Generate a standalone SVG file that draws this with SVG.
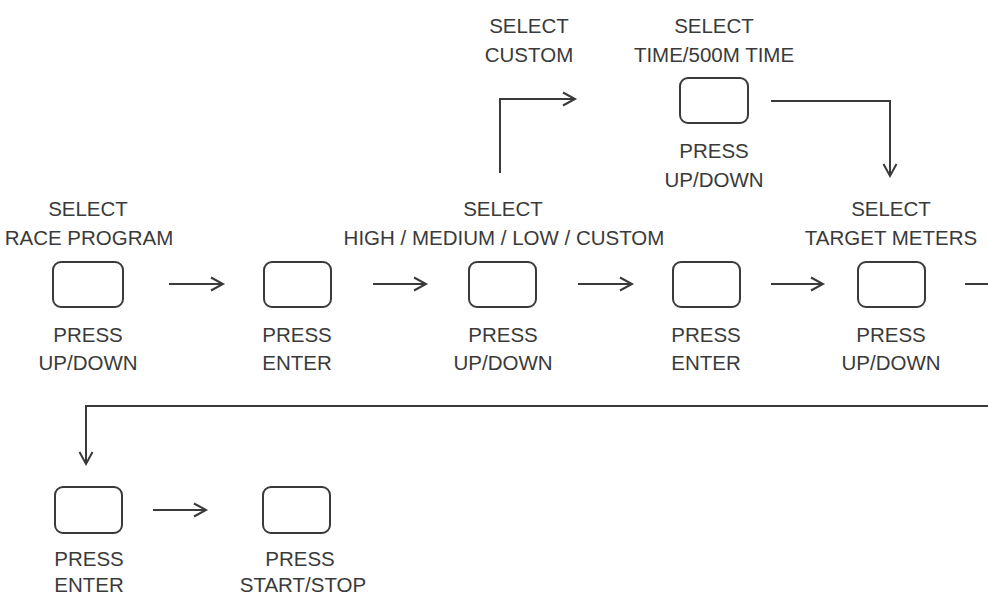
<svg xmlns="http://www.w3.org/2000/svg" width="988" height="597" viewBox="0 0 988 597">
<style>
.b{fill:#fff;stroke:#3a3a3a;stroke-width:2}
.c{fill:none;stroke:#3a3a3a;stroke-width:2}
text{font-family:"Liberation Sans",Arial,sans-serif;font-size:20.5px;fill:#3a3a3a;text-anchor:middle}
</style>
<defs>
<marker id="ah" markerUnits="userSpaceOnUse" markerWidth="16" markerHeight="16" refX="13" refY="8" orient="auto" viewBox="0 0 16 16">
<path d="M1,1.5 L13,8 L1,14.5" fill="none" stroke="#3a3a3a" stroke-width="2"/>
</marker>
</defs>
<g id="connectors">
<line class="c" x1="169" y1="284" x2="223" y2="284" marker-end="url(#ah)"/>
<line class="c" x1="373" y1="284" x2="426" y2="284" marker-end="url(#ah)"/>
<line class="c" x1="578" y1="284" x2="632" y2="284" marker-end="url(#ah)"/>
<line class="c" x1="771" y1="284" x2="823" y2="284" marker-end="url(#ah)"/>
<polyline class="c" points="500,173 500,99 575,99" marker-end="url(#ah)"/>
<polyline class="c" points="771,101 890,101 890,176" marker-end="url(#ah)"/>
<line class="c" x1="965" y1="284" x2="988" y2="284"/>
<polyline class="c" points="988,406 86,406 86,464" marker-end="url(#ah)"/>
<line class="c" x1="153" y1="510" x2="206" y2="510" marker-end="url(#ah)"/>
</g>
<g id="n1">
<text x="88" y="216">SELECT</text>
<text x="89" y="245">RACE PROGRAM</text>
<rect class="b" x="53" y="262" width="70" height="45" rx="8"/>
<text x="88" y="342">PRESS</text>
<text x="88" y="370">UP/DOWN</text>
</g>
<g id="n2">
<rect class="b" x="264" y="262" width="67" height="45" rx="8"/>
<text x="297" y="342">PRESS</text>
<text x="297" y="370">ENTER</text>
</g>
<g id="n3">
<text x="503" y="216">SELECT</text>
<text x="504" y="245">HIGH / MEDIUM / LOW / CUSTOM</text>
<rect class="b" x="469" y="262" width="67" height="45" rx="8"/>
<text x="503" y="342">PRESS</text>
<text x="503" y="370">UP/DOWN</text>
</g>
<g id="n4">
<rect class="b" x="673" y="262" width="67" height="45" rx="8"/>
<text x="706" y="342">PRESS</text>
<text x="706" y="370">ENTER</text>
</g>
<g id="n5">
<text x="891" y="216">SELECT</text>
<text x="891" y="245">TARGET METERS</text>
<rect class="b" x="858" y="262" width="67" height="45" rx="8"/>
<text x="891" y="342">PRESS</text>
<text x="891" y="370">UP/DOWN</text>
</g>
<g id="n6">
<text x="529" y="33">SELECT</text>
<text x="529" y="62">CUSTOM</text>
</g>
<g id="n7">
<text x="714" y="33">SELECT</text>
<text x="714" y="62">TIME/500M TIME</text>
<rect class="b" x="680" y="78" width="68" height="45" rx="8"/>
<text x="714" y="158">PRESS</text>
<text x="714" y="187">UP/DOWN</text>
</g>
<g id="n8">
<rect class="b" x="55" y="487" width="67" height="46" rx="8"/>
<text x="89" y="566">PRESS</text>
<text x="89" y="592">ENTER</text>
</g>
<g id="n9">
<rect class="b" x="263" y="487" width="67" height="46" rx="8"/>
<text x="300" y="566">PRESS</text>
<text x="303" y="592">START/STOP</text>
</g>
</svg>
